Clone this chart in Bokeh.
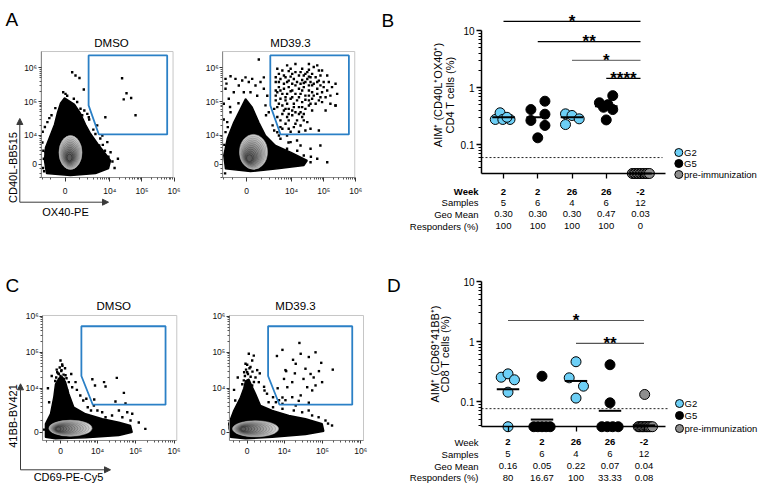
import numpy as np
from bokeh.plotting import figure
from bokeh.layouts import row, column
from bokeh.models import LinearAxis, LogAxis, FixedTicker, Range1d, Arrow, NormalHead, Grid
from bokeh.embed import file_html
from bokeh.resources import INLINE
from bokeh.core.properties import value

FONT = "Liberation Sans"
LN10 = np.log(10.0)

# ============================ DATA ============================
# ---------- dot plots (B: CD4, D: CD8) ----------
weeks = ["2", "2", "26", "26", "-2"]
week_groups = ["G2", "G5", "G2", "G5", "pre-immunization"]
legend_labels = ["G2", "G5", "pre-immunization"]
table_row_labels = ["Week", "Samples", "Geo Mean", "Responders (%)"]

B_values = [
    [0.275, 0.36, 0.275, 0.275, 0.30],
    [0.41, 0.575, 0.264, 0.34, 0.216, 0.131],
    [0.345, 0.323, 0.282, 0.224],
    [0.54, 0.72, 0.50, 0.45, 0.41, 0.27],
    [0.031, 0.031, 0.031, 0.031, 0.031, 0.031, 0.031, 0.031, 0.031, 0.031, 0.031, 0.031],
]
B_jitter = [
    [-0.24, -0.10, -0.02, 0.19, 0.10],
    [-0.20, 0.21, -0.20, 0.21, 0.21, 0.0],
    [-0.19, 0.0, 0.21, -0.19],
    [-0.20, 0.19, 0.05, -0.08, 0.19, 0.0],
    [-0.24, -0.19, -0.15, -0.10, -0.06, -0.01, 0.03, 0.08, 0.12, 0.17, 0.21, 0.26],
]
B_samples = [5, 6, 4, 6, 12]
B_geomean = [0.30, 0.30, 0.30, 0.47, 0.03]
B_responders = [100, 100, 100, 100, 0]
B_floor = 0.031
B_threshold = 0.059
B_sig_from = [0, 1, 2, 3]
B_sig_to = [4, 4, 4, 4]
B_sig_level = [14.4, 6.4, 3.0, 1.44]
B_sig_label = ["*", "**", "*", "****"]

D_values = [
    [0.254, 0.289, 0.23, 0.143, 0.038],
    [0.264, 0.038, 0.038, 0.038, 0.038, 0.038],
    [0.46, 0.248, 0.18, 0.114],
    [0.41, 0.095, 0.038, 0.038, 0.038, 0.038],
    [0.131, 0.038, 0.038, 0.038, 0.038, 0.038, 0.038, 0.038, 0.038, 0.038, 0.038, 0.038],
]
D_jitter = [
    [-0.20, 0.0, 0.19, 0.0, 0.0],
    [0.0, -0.24, -0.12, 0.0, 0.12, 0.24],
    [0.0, -0.20, 0.22, 0.0],
    [0.0, 0.0, -0.24, -0.08, 0.08, 0.24],
    [0.02, -0.17, -0.13, -0.09, -0.05, -0.01, 0.03, 0.07, 0.11, 0.15, 0.20, 0.25],
]
D_samples = [5, 6, 4, 6, 12]
D_geomean = [0.16, 0.05, 0.22, 0.07, 0.04]
D_responders = [80, 16.67, 100, 33.33, 0.08]
D_floor = 0.038
D_threshold = 0.076
D_sig_from = [0, 2]
D_sig_to = [4, 4]
D_sig_level = [2.24, 0.93]
D_sig_label = ["*", "**"]

# ---------- flow cytometry (fluorescence intensities) ----------
A_gate_x = [2100, 6.1e5, 6.1e5, 4500, 2100]
A_gate_y = [2.3e6, 2.3e6, 1.07e4, 1.07e4, 7.8e4]
C_gate_x = [3500, 6.0e5, 6.0e5, 7400, 3500]
C_gate_y = [5.3e5, 5.3e5, 3400, 3400, 2.2e4]

A_dmso_blob_x = [-1400, -1650, -1520, -1090, -660, -450, -263, -29, 263, 589, 1087, 1654, 2424, 4080, 6780, 10450, 9060, 3530, 324]
A_dmso_blob_y = [-2030, 705, 4030, 8620, 21300, 48200, 90000, 130000, 105000, 83000, 45100, 21300, 11440, 5540, 2540, 705, -915, -2030, -2540]
A_md_blob_x = [-1740, -1985, -1518, -852, -367, -68, 323, 785, 1436, 3100, 9240, 30700, 24000, 3530, 220]
A_md_blob_y = [-977, 1795, 7850, 24900, 62000, 122000, 69000, 24900, 9940, 4760, 2620, 705, -299, -977, -1560]
C_dmso_blob_x = [-2240, -2240, -1384, -898, -661, -220, 220, 661, 1131, 1925, 4640, 13240, 36000, 72900, 80700, 36000, 4640, -661]
C_dmso_blob_y = [-388, 680, 1770, 5590, 13000, 19000, 21000, 15000, 7020, 2860, 1770, 1167, 827, 533, 0, -256, -443, -524]
C_md_blob_x = [-2560, -2930, -1945, -898, -447, -220, 210, 661, 1131, 1925, 4640, 13150, 36000, 98500, 108500, 36000, 4640, -220]
C_md_blob_y = [-388, 680, 2270, 5590, 10000, 16000, 18000, 11000, 7020, 3220, 2270, 1555, 1167, 680, 78, -178, -388, -524]

A_dmso_events = [(431, 7.4e5), (661, 5.9e5), (987, 5.0e5), (1436, 2.3e5), (-103, 1.9e5), (29, 1.7e5),
                 (126, 1.5e5), (541, 1.23e5), (790, 9.8e4), (1087, 6.2e4), (1258, 4.0e4), (2130, 3.5e4),
                 (3985, 2.0e4), (2750, 7850), (2.4e4, 4.9e5), (3.3e4, 1.78e5), (2.7e4, 1.17e5),
                 (4.6e4, 1.29e5), (6.3e4, 4.0e4), (7.2e3, 3.5e4), (1.78e4, 1060), (8.3e3, 6140),
                 (5.8e3, 9940), (4.6e3, 4760), (1.05e4, 2620), (-987, 8800), (-1150, 4760),
                 (-1740, 1060), (-1518, 2620), (-1900, 1.3e4), (-1800, 3000), (-1700, -1500),
                 (-1300, 2.5e4), (-900, 4.0e4), (3000, 1.5e4), (5000, 8000), (7000, 3000), (1.2e4, 500),
                 (2200, 3.0e4), (1500, 5.5e4), (-600, 6.5e4), (1.4e4, -800), (-1950, 6000), (-1600, 1.8e4),
                 (-1100, 3.3e4), (1900, 4.4e4), (3500, 1.1e4), (6000, 5000), (9000, 1500), (-1850, -800)]
A_md_events = [(-1740, 2.4e5), (-1615, 3.4e5), (-1740, 4.7e5), (-1150, 5.6e5), (-715, 4.7e5), (-478, 3.0e5),
               (-262, 4.2e5), (-68, 5.2e5), (120, 3.8e5), (323, 4.7e5), (539, 3.0e5), (928, 3.8e5),
               (1250, 5.2e5), (-167, 1.9e5), (-852, 1.9e5), (-1334, 1.23e5), (-1990, 8.7e4), (220, 1.9e5),
               (661, 1.5e5), (1250, 2.4e5), (1655, 1.5e5), (785, 1.74e6), (-1150, 4.9e4), (-1518, 2.5e4),
               (-1740, 1.26e4), (-1450, 1.78e4), (1436, 7.8e4), (1866, 4.9e4),
               (3.9e4, 361), (2.4e4, 1795), (6.3e4, 1060), (1.17e4, 1795), (7200, 3600), (1.29e5, 361),
               (1.9e4, 4760), (3.9e4, 3600), (9300, 6140), (4470, 7850), (3550, 12540), (5130, 15840),
               (7200, 9940), (1.48e4, 6930), (7.9e4, 4760), (2.34e5, 77600),
               (-2000, 3.0e4), (-1900, 5000), (-1200, 7.0e4), (1500, 4.0e4), (4000, 1.0e4), (8000, 6000),
               (1.5e4, 3000), (4.0e4, 1500), (-1800, -2000), (2500, 2.0e4), (-500, 9.0e4)]
# gated MD39.3 CD4 events, given as (log10 OX40, log10 CD40L)
A_md_gate_log10 = [
    (3.86, 6.07), (4.12, 5.87), (4.33, 5.97), (4.54, 5.94), (4.69, 6.02), (4.80, 6.07), (4.95, 5.92),
    (5.11, 5.77), (4.23, 5.77), (4.43, 5.82), (4.02, 5.82), (4.64, 5.82), (3.60, 5.82), (3.50, 5.72),
    (3.65, 5.67), (3.81, 5.72), (3.91, 5.62), (4.07, 5.67), (4.17, 5.58), (4.33, 5.64), (4.49, 5.67),
    (4.59, 5.58), (4.75, 5.72), (4.85, 5.62), (5.00, 5.58), (3.76, 5.53), (3.50, 5.58), (5.26, 5.43),
    (5.37, 5.53), (3.60, 5.43), (3.76, 5.38), (3.91, 5.43), (4.02, 5.33), (4.12, 5.48), (4.23, 5.38),
    (4.38, 5.43), (4.54, 5.33), (4.64, 5.48), (4.80, 5.38), (4.95, 5.28), (5.11, 5.33), (3.55, 5.28),
    (3.86, 5.23), (4.28, 5.23), (4.43, 5.18), (4.69, 5.18), (4.90, 5.13), (5.21, 5.18), (5.37, 4.89),
    (3.50, 5.04), (3.65, 5.09), (3.81, 5.04), (3.97, 5.09), (4.07, 4.94), (4.17, 5.04), (4.33, 4.99),
    (4.54, 5.04), (4.75, 4.94), (4.95, 4.99), (3.71, 4.89), (3.91, 4.79), (4.23, 4.84), (4.43, 4.79),
    (4.64, 4.74), (4.12, 4.69), (3.71, 4.64), (3.86, 4.55), (4.02, 4.60), (4.17, 4.45), (4.33, 4.55),
    (4.49, 4.40), (3.81, 4.35), (4.07, 4.25), (4.28, 4.30), (4.43, 4.15), (3.97, 4.11), (4.59, 4.20),
    (4.85, 4.15), (3.65, 4.45), (3.71, 5.92), (3.97, 5.97), (4.38, 5.77), (4.59, 5.72), (3.86, 5.58),
    (4.28, 5.53), (4.43, 5.58), (4.69, 5.53), (4.02, 5.13), (4.12, 5.23), (4.54, 5.18), (4.80, 5.23),
    (3.71, 5.23), (3.60, 4.94), (3.86, 4.94), (4.33, 4.84), (4.54, 4.89), (4.02, 4.74), (3.76, 4.74),
    (4.23, 4.64), (3.91, 4.45), (4.38, 4.64), (4.12, 4.35), (3.50, 5.33), (3.45, 4.79), (3.55, 4.55),
    (5.00, 5.43), (5.16, 5.58), (4.90, 5.77), (5.06, 5.13),
    (3.55, 5.97), (3.91, 5.90), (4.28, 5.87), (4.49, 5.87), (4.85, 5.92), (3.76, 5.77), (3.97, 5.74),
    (4.54, 5.74), (4.80, 5.58), (3.60, 5.58), (4.02, 5.53), (4.38, 5.55), (4.54, 5.48), (4.90, 5.48),
    (3.65, 5.33), (3.97, 5.31), (4.33, 5.33), (4.64, 5.28), (3.81, 5.13), (4.23, 5.13), (4.43, 5.06),
    (4.64, 5.09), (4.85, 5.04), (3.55, 4.84), (3.81, 4.79), (4.07, 4.84), (4.59, 4.94), (3.91, 4.64),
    (4.28, 4.69), (3.65, 4.25), (4.23, 4.11), (3.91, 4.20), (4.38, 4.45), (5.06, 4.74), (5.21, 4.94),
    (5.42, 5.23), (4.12, 6.11), (4.54, 6.11), (3.50, 5.18), (3.45, 4.15)]
C_dmso_events = [(7200, 1.78e4), (1.48e4, 1.48e4), (1.62e4, 1.12e4), (8500, 1.2e4), (3.2e4, 1.95e4),
                 (4.9e4, 7400), (2.95e4, 4200), (5.4e4, 3700), (8100, 4800),
                 (0, 5.9e4), (220, 4.6e4), (130, 3.2e4), (-220, 2.5e4), (-432, 2.8e4), (661, 2.3e4),
                 (1131, 1.48e4), (432, 1.82e4), (-566, 2.0e4), (1651, 1.07e4), (2240, 1.48e4), (901, 8700),
                 (3240, 6250), (3980, 4520), (5370, 2860), (6610, 2270), (9860, 2270), (13200, 1990),
                 (16200, 1340), (36300, 2270), (60000, 1990), (81000, 1770), (73000, 990), (178000, 262),
                 (20000, 680), (29700, 388), (4900, 5050), (7940, 3220), (44700, 1340), (24000, 1555),
                 (-1800, 1.0e4), (-1200, 2.2e4), (1500, 2.5e4), (2500, 9000), (5.0e4, 500), (1.2e5, 800),
                 (-2500, 200), (-1600, 4000), (-300, 2.6e4), (100, 3.0e4), (400, 2.4e4), (-100, 3.8e4),
                 (250, 4.2e4), (-500, 3.3e4), (600, 3.6e4), (0, 2.2e4), (-700, 1.6e4), (800, 1.9e4)]
C_md_events = [(2.5e4, 1.82e5), (8900, 1.17e5), (6300, 7.9e4), (2.7e4, 9.1e4), (6.6e4, 1.0e5), (4.4e4, 7.4e4),
               (1.7e4, 6.2e4), (9.3e4, 5.1e4), (1.86e5, 3.3e4), (1.07e4, 3.2e4), (1.9e4, 2.6e4), (1.12e4, 3.0e4),
               (4.9e4, 2.5e4), (8.1e4, 3.0e4), (9800, 1.82e4), (1.62e4, 1.48e4), (3.2e4, 1.82e4), (5.9e4, 2.0e4),
               (9.8e4, 1.48e4), (6.6e4, 1.2e4), (1.2e4, 1.07e4), (6600, 1.0e4), (4.0e4, 1.07e4), (5.4e4, 8700),
               (2.7e4, 6300), (1.62e4, 5600), (8900, 5500), (2.4e4, 4400), (1.07e4, 4600), (7200, 4600),
               (4.4e4, 3900), (3.6e4, 3.5e4), (2.0e4, 4.8e4),
               (210, 9.1e4), (881, 8.1e4), (661, 5.9e4), (-220, 4.8e4), (0, 2.8e4), (1131, 2.0e4),
               (1640, 1.48e4), (661, 1.2e4), (432, 3.9e4), (-447, 1.66e4), (1384, 3.2e4),
               (2690, 8650), (3240, 7020), (4900, 5590), (3630, 4020), (4900, 2860), (8910, 2560),
               (17800, 2270), (29500, 1990), (53700, 1555), (120000, 990), (178000, 533), (8910, 3610),
               (20000, 3220), (5890, 4020), (43700, 2270), (79400, 1340),
               (-1900, 9000), (-1300, 2.0e4), (1800, 2.6e4), (2600, 1.1e4), (6.0e4, 400), (1.4e5, 700),
               (-2700, 300), (-1700, 4500), (-300, 2.2e4), (100, 2.5e4), (450, 2.1e4), (-150, 3.3e4),
               (300, 3.6e4), (700, 2.9e4), (0, 4.5e4), (-400, 2.8e4), (-650, 1.3e4), (900, 1.5e4)]

flow_major = [0, 1e4, 1e5, 1e6]
flow_major_labels = ["0", "10\u2074", "10\u2075", "10\u2076"]

# ============================ LAYOUT (reference pixel geometry) ============================
TOP_REF, TOP_H = 0, 238
BOT_REF, BOT_H = 238, 245
COLS = [(0, 190), (190, 190), (380, 379)]
BLUE = "#6DCFF6"
GREY = "#8E8E8E"
GATE = "#2B80C6"
group_fill = {"G2": BLUE, "G5": "#000000", "pre-immunization": GREY}


def bare(w, h, xr, yr, ylog=False):
    p = figure(width=w, height=h, x_range=Range1d(*xr), y_range=Range1d(*yr),
               y_axis_type="log" if ylog else "linear",
               x_axis_location=None, y_axis_location=None, title=None,
               toolbar_location=None, output_backend="svg", min_border=0)
    p.outline_line_color = None
    for g in p.select(type=Grid):
        g.visible = False
    return p


def add_text(p, xs, ys, texts, size, align="center", baseline="middle", bold=False, angle=0.0, color="#000000"):
    p.text(x=list(xs), y=list(ys), text=list(texts), text_font=value(FONT), text_font_size=size,
           text_align=align, text_baseline=baseline, text_font_style="bold" if bold else "normal",
           angle=angle, text_color=color)


# ---------------------------------------------------------------- dot panels
def dot_panel(ref_left, ref_top, width, height, L, vals, jit, geo, samples, resp, floor, thr,
              sig, sig_colors, ylabels, week_bold, letter):
    step = (L["c4"] - L["c0"]) / 4.0
    X = lambda px: (px - L["c0"]) / step
    Y = lambda py: 10 ** ((L["y1"] - py) / (L["y01"] - L["y1"]))
    p = bare(width, height, (X(ref_left), X(ref_left + width)), (Y(ref_top + height), Y(ref_top)), ylog=True)
    ax_x = X(L["axis_x"])

    # detection threshold
    p.segment(x0=[ax_x], y0=[thr], x1=[X(L["thr_end"])], y1=[thr], line_color="#222222",
              line_width=1, line_dash="2 2")
    # significance bars
    s_from, s_to, s_lev, s_lab = sig
    p.segment(x0=s_from, y0=s_lev, x1=s_to, y1=s_lev, line_color=sig_colors, line_width=1.2)
    add_text(p, [(a + b) / 2 for a, b in zip(s_from, s_to)], s_lev, s_lab, "17px",
             baseline="alphabetic", bold=True)
    # points
    xs, ys, fills = [], [], []
    for i, (vv, jj) in enumerate(zip(vals, jit)):
        for v, j in zip(vv, jj):
            xs.append(i + j)
            ys.append(v)
            fills.append(group_fill[week_groups[i]])
    p.scatter(x=xs, y=ys, marker="circle", size=10, fill_color=fills, line_color="#000000", line_width=1)
    # geometric mean bars
    gy = [max(g, floor) for g in geo]
    p.segment(x0=[i - 0.33 for i in range(5)], y0=gy, x1=[i + 0.33 for i in range(5)], y1=gy,
              line_color="#000000", line_width=2)

    # axes
    minor = [k * 10.0 ** d for d in (-2, -1, 0) for k in range(2, 10) if floor < k * 10.0 ** d < 10]
    yax = LogAxis(fixed_location=ax_x, bounds=(floor, 10),
                  ticker=FixedTicker(ticks=[0.1, 1, 10], minor_ticks=minor),
                  major_label_overrides={0.1: "0.1", 1: "1", 10: "10"})
    yax.axis_line_width = 1.5
    yax.major_tick_out, yax.major_tick_in = 5, 0
    yax.minor_tick_out, yax.minor_tick_in = 3, 0
    yax.major_tick_line_width = 1.3
    yax.major_label_standoff = 2
    yax.major_label_text_font = FONT
    yax.major_label_text_font_size = "10px"
    yax.major_label_text_color = "#000000"
    p.add_layout(yax, "left")
    xax = LinearAxis(fixed_location=floor, bounds=(ax_x, X(L["axis_end"])),
                     ticker=FixedTicker(ticks=[0, 1, 2, 3, 4], minor_ticks=[]),
                     major_label_overrides={i: "" for i in range(5)})
    xax.axis_line_width = 1.5
    xax.major_tick_out, xax.major_tick_in = 5, 0
    xax.major_tick_line_width = 1.3
    xax.minor_tick_line_color = None
    p.add_layout(xax, "below")

    # table below the axis
    ty = [Y(v) for v in L["table_y"]]
    add_text(p, [X(L["table_lx"])], ty[:1], table_row_labels[:1], "9.5px", align="right", bold=week_bold)
    add_text(p, [X(L["table_lx"])] * 3, ty[1:], table_row_labels[1:], "9.5px", align="right")
    cats = list(range(5))
    add_text(p, cats, [ty[0]] * 5, weeks, "9.5px", bold=True)
    add_text(p, cats, [ty[1]] * 5, [str(s) for s in samples], "9.5px")
    add_text(p, cats, [ty[2]] * 5, ["%.2f" % g for g in geo], "9.5px")
    add_text(p, cats, [ty[3]] * 5, ["%g" % r for r in resp], "9.5px")

    # y label (two rotated lines)
    add_text(p, [X(L["ylab_x"][0]), X(L["ylab_x"][1])], [Y(L["ylab_y"])] * 2, ylabels, "11px",
             angle=np.pi / 2)
    # legend
    ly = [Y(v) for v in L["legend_y"]]
    p.scatter(x=[X(L["legend_x"])] * 3, y=ly, marker="circle", size=8,
              fill_color=[group_fill[g] for g in legend_labels], line_color="#000000", line_width=1)
    add_text(p, [X(L["legend_tx"])] * 3, ly, legend_labels, "9.5px", align="left")
    # panel letter
    add_text(p, [X(letter[0])], [Y(letter[1])], [letter[2]], "19px", align="left", baseline="alphabetic")
    return p


L_B = dict(c0=503.0, c4=640.0, y1=87.0, y01=144.0, axis_x=481.0, axis_end=665.0, thr_end=662.0,
           legend_x=678.3, legend_tx=683.5, legend_y=[152.0, 163.0, 174.0],
           table_lx=478.0, table_y=[191.0, 202.3, 213.6, 225.5],
           ylab_x=[437.5, 449.0], ylab_y=94.5)
L_D = dict(c0=507.5, c4=643.5, y1=341.0, y01=401.0, axis_x=481.0, axis_end=665.0, thr_end=667.0,
           legend_x=679.0, legend_tx=684.0, legend_y=[403.0, 415.0, 428.0],
           table_lx=478.0, table_y=[441.7, 453.5, 465.5, 477.3],
           ylab_x=[434.5, 444.5], ylab_y=353.5)

pB = dot_panel(COLS[2][0], TOP_REF, COLS[2][1], TOP_H, L_B, B_values, B_jitter, B_geomean, B_samples,
               B_responders, B_floor, B_threshold, (B_sig_from, B_sig_to, B_sig_level, B_sig_label),
               ["#000000", "#000000", "#777777", "#000000"],
               ["AIM\u207a (CD40L\u207aOX40\u207a)", "CD4 T cells (%)"], True, (381.0, 20.0, "B"))
pD = dot_panel(COLS[2][0], BOT_REF, COLS[2][1], BOT_H, L_D, D_values, D_jitter, D_geomean, D_samples,
               D_responders, D_floor, D_threshold, (D_sig_from, D_sig_to, D_sig_level, D_sig_label),
               ["#555555", "#555555"],
               ["AIM\u207a (CD69\u207a41BB\u207a)", "CD8 T cells (%)"], False, (386.5, 285.0, "D"))


# ---------------------------------------------------------------- flow panels
def flow_panel(ref_left, ref_top, width, height, cal, box, blob, contour, events, gate, title, tick):
    tx = lambda v: np.arcsinh(np.asarray(v, dtype=float) / cal["cx"]) / LN10
    ty = lambda v: np.arcsinh(np.asarray(v, dtype=float) / cal["cy"]) / LN10
    PX = lambda px: (px - cal["x0"]) / cal["sx"]
    PY = lambda py: (cal["y0"] - py) / cal["sy"]
    p = bare(width, height, (PX(ref_left), PX(ref_left + width)), (PY(ref_top + height), PY(ref_top)))
    bx0, bx1 = [float(v) for v in tx(box[0])]
    by0, by1 = [float(v) for v in ty(box[1])]
    p.quad(left=[bx0], right=[bx1], bottom=[by0], top=[by1], fill_color=None, line_color="#c6c6c6", line_width=1)
    # dense population
    p.patch(x=tx(blob[0]), y=ty(blob[1]), fill_color="#000000", line_color="#000000", line_width=1.5)
    # contour levels of the dense core (graded grey, outer -> inner)
    (ocx, ocy), (ow, oh) = contour["outer"]
    (icx, icy), (iw, ih) = contour["inner"]
    ox, oy, ix, iy = float(tx(ocx)), float(ty(ocy)), float(tx(icx)), float(ty(icy))
    n = contour["levels"]
    for k in range(n):
        f = k / (n - 1)
        g = int(0xD2 - f * (0xD2 - 0x5A))
        gl = max(g - 0x30, 0x20)
        p.ellipse(x=[ox + f * (ix - ox)], y=[oy + f * (iy - oy)],
                  width=[(ow + f * (iw - ow)) / cal["sx"]], height=[(oh + f * (ih - oh)) / cal["sy"]],
                  fill_color="#%02x%02x%02x" % (g, g, g), line_color="#%02x%02x%02x" % (gl, gl, gl),
                  line_width=0.6)
    # individual events
    ex = [e[0] for e in events]
    ey = [e[1] for e in events]
    p.scatter(x=tx(ex), y=ty(ey), marker="square", size=2.4, fill_color="#000000", line_color=None)
    # gate
    p.patch(x=tx(gate[0]), y=ty(gate[1]), fill_color=None, line_color=GATE, line_width=1.8)

    # axes
    major_x = [float(v) for v in tx(flow_major)]
    major_y = [float(v) for v in ty(flow_major)]
    mvals = [-k * 1000.0 for k in range(1, 4)] + [k * 10.0 ** d for d in (3, 4, 5) for k in range(1, 10) if k > 1 or d == 3]
    minor_x = [float(v) for v in tx(mvals) if bx0 < v < bx1]
    minor_y = [float(v) for v in ty(mvals) if by0 < v < by1]
    yax = LinearAxis(fixed_location=bx0, bounds=(by0, by1),
                     ticker=FixedTicker(ticks=major_y, minor_ticks=minor_y),
                     major_label_overrides=dict(zip(major_y, flow_major_labels)))
    xax = LinearAxis(fixed_location=by0, bounds=(bx0, bx1),
                     ticker=FixedTicker(ticks=major_x, minor_ticks=minor_x),
                     major_label_overrides=dict(zip(major_x, flow_major_labels)))
    for ax, out, so in ((yax, tick["y_out"], tick["y_so"]), (xax, tick["x_out"], tick["x_so"])):
        ax.axis_line_color = "#8a8a8a"
        ax.axis_line_width = 1
        ax.major_tick_line_color = "#333333"
        ax.minor_tick_line_color = "#555555"
        ax.major_tick_out, ax.major_tick_in = out, 0
        ax.minor_tick_out, ax.minor_tick_in = 2, 0
        ax.major_label_standoff = so
        ax.major_label_text_font = FONT
        ax.major_label_text_font_size = "8.5px"
        ax.major_label_text_color = "#111111"
    p.add_layout(yax, "left")
    p.add_layout(xax, "below")
    add_text(p, [PX(title[1])], [PY(title[2])], [title[0]], "11.5px")
    return p, PX, PY


A_box = ((-2150, 9.3e5), (-3100, 3.0e6))
C_box = ((-2800, 1.18e6), (-670, 1.055e6))
tickA = dict(x_out=4, x_so=4, y_out=3, y_so=1)
tickC = dict(x_out=3, x_so=3, y_out=3, y_so=1)
cal_A1 = dict(x0=64.5, sx=32.1, cx=800.0, y0=163.5, sy=34.0, cy=2950.0)
cal_A2 = dict(x0=246.2, sx=32.1, cx=800.0, y0=163.5, sy=34.0, cy=2950.0)
cal_C1 = dict(x0=60.0, sx=38.3, cx=2170.0, y0=431.7, sy=36.0, cy=1208.0)
cal_C2 = dict(x0=246.7, sx=38.3, cx=2170.0, y0=431.7, sy=36.0, cy=1208.0)

A_md_all = A_md_events + [(10 ** a, 10 ** b) for a, b in A_md_gate_log10]

pA1, PXa, PYa = flow_panel(COLS[0][0], TOP_REF, COLS[0][1], TOP_H, cal_A1, A_box, (A_dmso_blob_x, A_dmso_blob_y),
                           dict(outer=((323, 2540), (23, 34)), inner=((263, 1340), (5, 7)), levels=12),
                           A_dmso_events, (A_gate_x, A_gate_y), ("DMSO", 111.0, 42.0), tickA)
pA2, _, _ = flow_panel(COLS[1][0], TOP_REF, COLS[1][1], TOP_H, cal_A2, A_box, (A_md_blob_x, A_md_blob_y),
                       dict(outer=((406, 2700), (28, 35)), inner=((161, 1200), (6, 7)), levels=12),
                       A_md_all, (A_gate_x, A_gate_y), ("MD39.3", 290.0, 42.0), tickA)
pC1, PXc, PYc = flow_panel(COLS[0][0], BOT_REF, COLS[0][1], BOT_H, cal_C1, C_box, (C_dmso_blob_x, C_dmso_blob_y),
                           dict(outer=((1384, 312), (43, 16)), inner=((-261, 250), (5, 4)), levels=12),
                           C_dmso_events, (C_gate_x, C_gate_y), ("DMSO", 113.3, 305.7), tickC)
pC2, _, _ = flow_panel(COLS[1][0], BOT_REF, COLS[1][1], BOT_H, cal_C2, C_box, (C_md_blob_x, C_md_blob_y),
                       dict(outer=((1131, 264), (46, 16)), inner=((-489, 250), (5, 4)), levels=12),
                       C_md_events, (C_gate_x, C_gate_y), ("MD39.3", 295.0, 305.7), tickC)


def axis_titles(p, PX, PY, letter, ytitle, xtitle, corner, top_y, right_x):
    add_text(p, [PX(letter[1])], [PY(letter[2])], [letter[0]], "19px", align="left", baseline="alphabetic")
    add_text(p, [PX(ytitle[1])], [PY(ytitle[2])], [ytitle[0]], "11px", angle=np.pi / 2)
    add_text(p, [PX(xtitle[1])], [PY(xtitle[2])], [xtitle[0]], "11px")
    for (x1, y1) in ((corner[0], top_y), (right_x, corner[1])):
        p.add_layout(Arrow(end=NormalHead(size=6, fill_color="#3a3a3a", line_color="#3a3a3a"),
                           x_start=PX(corner[0]), y_start=PY(corner[1]), x_end=PX(x1), y_end=PY(y1),
                           line_color="#3a3a3a", line_width=1))


axis_titles(pA1, PXa, PYa, ("A", 5.0, 18.5), ("CD40L-BB515", 12.0, 167.0), ("OX40-PE", 65.0, 211.0),
            (19.3, 201.7), 118.0, 108.0)
axis_titles(pC1, PXc, PYc, ("C", 5.0, 284.5), ("41BB-BV421", 12.5, 415.5), ("CD69-PE-Cy5", 68.0, 476.5),
            (20.0, 469.3), 383.3, 110.0)

layout = column(row(pA1, pA2, pB), row(pC1, pC2, pD))
open("out.html", "w").write(file_html(layout, INLINE))
